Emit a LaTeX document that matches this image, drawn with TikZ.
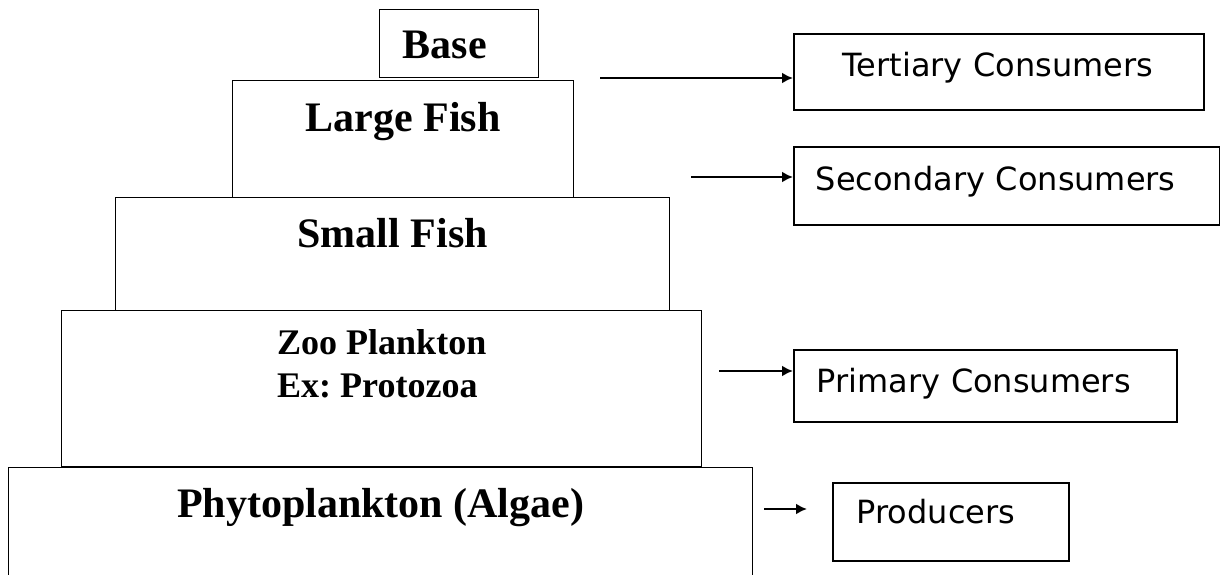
\documentclass[tikz,border=0pt]{standalone}
\usepackage{fontspec}
\setmainfont{Liberation Serif}
\newfontfamily\levelfont{DejaVu Sans}
\usetikzlibrary{arrows.meta}
\frenchspacing

\begin{document}
\begin{tikzpicture}[y=-1cm]
             \clip (0,0) rectangle (24.4,11.5);

             \begin{scope}[every node/.style = {rectangle, draw, line width=0.8pt, anchor=north west, inner ysep=0pt,
                                                 font=\bfseries\fontsize{23.9}{28}\selectfont}]
                \node[text width=2.26cm, inner xsep=0.46cm, align=left, text height=0.98cm, text depth=0.38cm](base) at (7.58,0.18) {Base};
                \node[minimum width=6.82cm, text height=1.02cm, text depth=1.32cm](large) at (4.64,1.60) {Large Fish};
                \node[minimum width=11.08cm, text height=1.00cm, text depth=1.26cm](small) at (2.30,3.94) {Small Fish};
                \node[minimum width=12.80cm, text height=0.88cm, text depth=2.24cm,
                      font=\bfseries\fontsize{20.5}{24.5}\selectfont](zoo) at (1.22,6.20)
                      {\begin{tabular}[t]{@{}l@{}}Zoo Plankton\\Ex: Protozoa\end{tabular}};
                \node[minimum width=14.88cm, text height=1.00cm, text depth=1.66cm](phyto) at (0.16,9.34) {Phytoplankton (Algae)};
             \end{scope}

             \begin{scope}[every node/.style = {rectangle, draw, line width=0.9pt, anchor=north west, inner ysep=0pt,
                                                 align=left, font=\levelfont\fontsize{18.2}{22}\selectfont}]
                \node[text width=6.24cm, inner xsep=0.98cm, text height=0.86cm, text depth=0.66cm](tert) at (15.86,0.66) {Tertiary Consumers};
                \node[text width=7.64cm, inner xsep=0.44cm, text height=0.88cm, text depth=0.68cm](sec) at (15.86,2.92) {Secondary Consumers};
                \node[text width=6.74cm, inner xsep=0.46cm, text height=0.86cm, text depth=0.58cm](prim) at (15.86,6.98) {Primary Consumers};
                \node[text width=3.76cm, inner xsep=0.48cm, text height=0.82cm, text depth=0.74cm](prod) at (16.64,9.64) {Producers};
             \end{scope}

             \coordinate (a1) at (12.00,1.56);
             \coordinate (a2) at (13.82,3.54);
             \coordinate (a3) at (14.38,7.42);
             \coordinate (a4) at (15.28,10.18);
             \coordinate (a5) at (16.14,10.18);

             \begin{scope}[every edge/.style = {-{Latex[length=0.22cm,width=0.22cm]}, draw, line width=1.3pt}]
                \path(a1) edge[] (a1 -| tert.west);
                \path(a2) edge[] (a2 -| sec.west);
                \path(a3) edge[] (a3 -| prim.west);
                \path(a4) edge[] (a5);
             \end{scope}
\end{tikzpicture}
\end{document}
